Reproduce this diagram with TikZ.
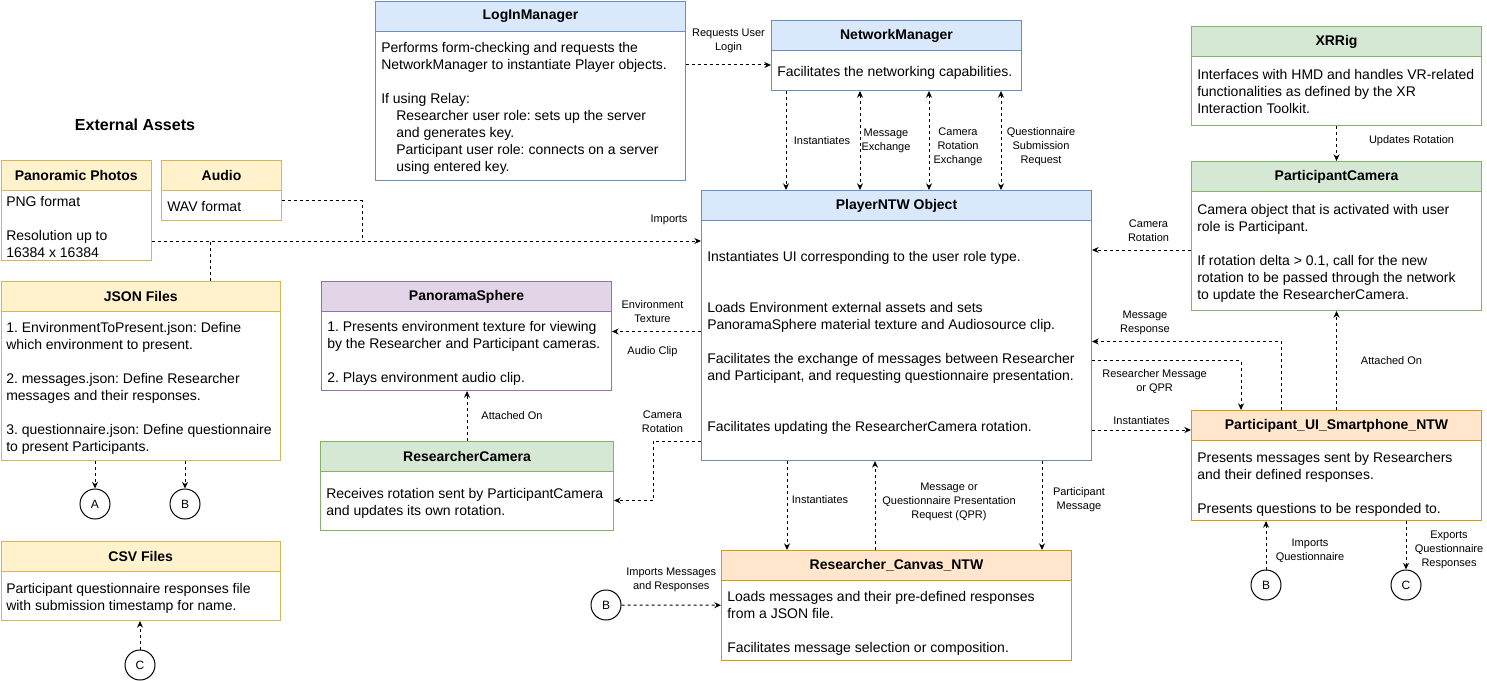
\documentclass[tikz,border=0pt]{standalone}
\usepackage{fontspec}
\setmainfont{Liberation Sans}
\frenchspacing
\usetikzlibrary{arrows.meta, positioning, calc}
\definecolor{hdBlue}{HTML}{DAE8FC}
\definecolor{lnBlue}{HTML}{6C8EBF}
\definecolor{hdYellow}{HTML}{FFF2CC}
\definecolor{lnYellow}{HTML}{D6B656}
\definecolor{hdGreen}{HTML}{D5E8D4}
\definecolor{lnGreen}{HTML}{82B366}
\definecolor{hdPurple}{HTML}{E1D5E7}
\definecolor{lnPurple}{HTML}{9673A6}
\definecolor{hdOrange}{HTML}{FFE6CC}
\definecolor{lnOrange}{HTML}{D79B00}

\begin{document}
\begin{tikzpicture}[
    x=0.75pt, y=-0.75pt,
    >={Stealth[length=5pt, width=4.5pt]},
    % Styles
    frame/.style={
        draw=#1, line width=0.75pt, fill=white, anchor=north west, inner sep=0pt
    },
    head/.style={
        draw=#1, line width=0.75pt, anchor=north, minimum height=22.5pt, inner sep=0pt,
        font=\fontsize{10.5}{12.75}\selectfont\bfseries
    },
    body/.style={
        anchor=north west, inner sep=0pt, align=left, font=\fontsize{10.5}{12.75}\selectfont
    },
    lbl/.style={
        inner sep=0pt, align=center, font=\fontsize{8.25}{10.5}\selectfont
    },
    ref/.style={
        circle, draw, line width=0.75pt, minimum size=22.5pt, inner sep=0pt, fill=white,
        font=\fontsize{9}{11}\selectfont
    },
    dline/.style={dash pattern=on 2.25pt off 2.25pt, line width=0.75pt},
    flow/.style={dline, ->},
    biflow/.style={dline, <->}
]
    \useasboundingbox (0,0) rectangle (1487,681);

    % --- 1. Managers ---
    \node[frame=lnBlue, minimum width=232.5pt, minimum height=134.25pt] (login) at (375,1) {};
    \node[head=lnBlue, fill=hdBlue, minimum width=232.5pt] (loginHead) at (login.north) {LogInManager};
    \node[body] (loginText) at (381,42) {Performs form-checking and requests the\\
        NetworkManager to instantiate Player objects.\\[12.75pt]
        If using Relay:\\
        \hspace*{11.25pt}Researcher user role: sets up the server\\
        \hspace*{11.25pt}and generates key.\\
        \hspace*{11.25pt}Participant user role: connects on a server\\
        \hspace*{11.25pt}using entered key.};

    \node[frame=lnBlue, minimum width=187.5pt, minimum height=52.5pt] (net) at (771,20) {};
    \node[head=lnBlue, fill=hdBlue, minimum width=187.5pt] (netHead) at (net.north) {NetworkManager};
    \node[body] (netText) at (777,66) {Facilitates the networking capabilities.};

    \node[frame=lnBlue, minimum width=292.5pt, minimum height=202.5pt] (player) at (701,190) {};
    \node[head=lnBlue, fill=hdBlue, minimum width=292.5pt] (playerHead) at (player.north) {PlayerNTW Object};
    \node[body] (playerText) at (707,251) {Instantiates UI corresponding to the user role type.\\[25.5pt]
        Loads Environment external assets and sets\\
        PanoramaSphere material texture and Audiosource clip.\\[12.75pt]
        Facilitates the exchange of messages between Researcher\\
        and Participant, and requesting questionnaire presentation.\\[25.5pt]
        Facilitates updating the ResearcherCamera rotation.};

    % --- 2. XR side ---
    \node[frame=lnGreen, minimum width=217.5pt, minimum height=74.25pt] (xr) at (1191,26) {};
    \node[head=lnGreen, fill=hdGreen, minimum width=217.5pt] (xrHead) at (xr.north) {XRRig};
    \node[body] (xrText) at (1197,69) {Interfaces with HMD and handles VR-related\\
        functionalities as defined by the XR\\
        Interaction Toolkit.};

    \node[frame=lnGreen, minimum width=217.5pt, minimum height=111.75pt] (pcam) at (1191,161) {};
    \node[head=lnGreen, fill=hdGreen, minimum width=217.5pt] (pcamHead) at (pcam.north) {ParticipantCamera};
    \node[body] (pcamText) at (1197,204) {Camera object that is activated with user\\
        role is Participant.\\[12.75pt]
        If rotation delta > 0.1, call for the new\\
        rotation to be passed through the network\\
        to update the ResearcherCamera.};

    \node[frame=lnOrange, minimum width=217.5pt, minimum height=82.5pt] (pui) at (1191,410) {};
    \node[head=lnOrange, fill=hdOrange, minimum width=217.5pt] (puiHead) at (pui.north) {Participant\_UI\_Smartphone\_NTW};
    \node[body] (puiText) at (1197,452) {Presents messages sent by Researchers\\
        and their defined responses.\\[12.75pt]
        Presents questions to be responded to.};

    % --- 3. External assets ---
    \node[font=\fontsize{12}{14}\selectfont\bfseries] (assetsTitle) at (135,125) {External Assets};

    \node[frame=lnYellow, minimum width=112.875pt, minimum height=75pt] (photo) at (0.5,160) {};
    \node[head=lnYellow, fill=hdYellow, minimum width=112.875pt] (photoHead) at (photo.north) {Panoramic Photos};
    \node[body] (photoText) at (6,196) {PNG format\\[12.75pt]
        Resolution up to\\
        16384 x 16384};

    \node[frame=lnYellow, minimum width=90pt, minimum height=45pt] (audio) at (161,160) {};
    \node[head=lnYellow, fill=hdYellow, minimum width=90pt] (audioHead) at (audio.north) {Audio};
    \node[body] (audioText) at (167,201) {WAV format};

    \node[frame=lnYellow, minimum width=209.625pt, minimum height=134.25pt] (json) at (0.5,281) {};
    \node[head=lnYellow, fill=hdYellow, minimum width=209.625pt] (jsonHead) at (json.north) {JSON Files};
    \node[body] (jsonText) at (6,322) {1. EnvironmentToPresent.json: Define\\
        which environment to present.\\[12.75pt]
        2. messages.json: Define Researcher\\
        messages and their responses.\\[12.75pt]
        3. questionnaire.json: Define questionnaire\\
        to present Participants.};

    \node[frame=lnYellow, minimum width=209.625pt, minimum height=59.25pt] (csv) at (0.5,541) {};
    \node[head=lnYellow, fill=hdYellow, minimum width=209.625pt] (csvHead) at (csv.north) {CSV Files};
    \node[body] (csvText) at (6,583) {Participant questionnaire responses file\\
        with submission timestamp for name.};

    % --- 4. Scene objects ---
    \node[frame=lnPurple, minimum width=217.5pt, minimum height=81.75pt] (sphere) at (321,281) {};
    \node[head=lnPurple, fill=hdPurple, minimum width=217.5pt] (sphereHead) at (sphere.north) {PanoramaSphere};
    \node[body] (sphereText) at (327,321) {1. Presents environment texture for viewing\\
        by the Researcher and Participant cameras.\\[12.75pt]
        2. Plays environment audio clip.};

    \node[frame=lnGreen, minimum width=219.75pt, minimum height=66.75pt] (rcam) at (320,441) {};
    \node[head=lnGreen, fill=hdGreen, minimum width=219.75pt] (rcamHead) at (rcam.north) {ResearcherCamera};
    \node[body] (rcamText) at (326,488) {Receives rotation sent by ParticipantCamera\\
        and updates its own rotation.};

    \node[frame=lnOrange, minimum width=262.5pt, minimum height=82.5pt] (canvas) at (721,550) {};
    \node[head=lnOrange, fill=hdOrange, minimum width=262.5pt] (canvasHead) at (canvas.north) {Researcher\_Canvas\_NTW};
    \node[body] (canvasText) at (727,591) {Loads messages and their pre-defined responses\\
        from a JSON file.\\[12.75pt]
        Facilitates message selection or composition.};

    % --- 5. Off-page references ---
    \node[ref] (circA) at (95,504) {A};
    \node[ref] (circB1) at (185,504) {B};
    \node[ref] (circC1) at (140,665) {C};
    \node[ref] (circB2) at (606,605) {B};
    \node[ref] (circB3) at (1266,585) {B};
    \node[ref] (circC2) at (1406,585) {C};

    % --- 6. Connections ---
    \coordinate (netIn) at ($(net.north west)+(0,45)$);
    \draw[flow] (login.east |- netIn) -- (netIn) node[lbl, midway, yshift=18pt] {Requests User\\Login};

    \coordinate (nwInst) at ($(net.south west)+(15,0)$);
    \coordinate (nwMsg) at ($(net.south west)+(89,0)$);
    \coordinate (nwCam) at ($(net.south west)+(158,0)$);
    \coordinate (nwQst) at ($(net.south west)+(230,0)$);
    \draw[flow] (nwInst) -- (nwInst |- player.north) node[lbl, midway, xshift=27pt] {Instantiates};
    \draw[biflow] (nwMsg) -- (nwMsg |- player.north) node[lbl, midway, xshift=19.5pt] {Message\\Exchange};
    \draw[biflow] (nwCam) -- (nwCam |- player.north) node[lbl, midway, xshift=21.75pt, yshift=-4.5pt] {Camera\\Rotation\\Exchange};
    \draw[biflow] (nwQst) -- (nwQst |- player.north) node[lbl, midway, xshift=30pt, yshift=-4.5pt] {Questionnaire\\Submission\\Request};

    % imports of the external assets
    \coordinate (imp) at ($(photo.south east)+(0,-20)$);
    \coordinate (audOut) at ($(audio.east)+(0,10)$);
    \coordinate (jsonUp) at ($(json.north)+(70,0)$);
    \draw[flow] (imp) -- (player.west |- imp) node[lbl, pos=1, xshift=-24pt, yshift=15.75pt] {Imports};
    \draw[dline] (audOut) -| ($(imp)+(210,0)$);
    \draw[dline] (jsonUp) -- (jsonUp |- imp);

    \draw[flow] (xr) -- (pcam) node[lbl, midway, xshift=56.25pt, yshift=2.25pt] {Updates Rotation};

    \coordinate (pcOut) at ($(pcam.west)+(0,14)$);
    \draw[flow] (pcOut) -- (player.east |- pcOut) node[lbl, midway, xshift=5.25pt, yshift=14.6pt] {Camera\\Rotation};

    \coordinate (plEnv) at ($(player.west)+(0,6)$);
    \draw[flow] (plEnv) -- (sphere.east |- plEnv)
        node[lbl, midway, xshift=-3pt, yshift=15pt] {Environment\\Texture}
        node[lbl, midway, xshift=-3pt, yshift=-15pt] {Audio Clip};

    \draw[flow] (rcam.north) -- (rcam.north |- sphere.south) node[lbl, midway, xshift=33.75pt] {Attached On};

    \coordinate (plCam) at ($(player.south west)+(0,-20)$);
    \coordinate (rcIn) at ($(rcam.east)+(0,14.5)$);
    \draw[flow] (plCam) -| ($(rcIn)+(39,0)$) node[lbl, pos=0.25, xshift=-10.9pt, yshift=14.25pt] {Camera\\Rotation} |- (rcIn);

    \coordinate (plInst) at ($(player.south west)+(86,0)$);
    \coordinate (cvReq) at ($(canvas.north west)+(154,0)$);
    \coordinate (plPart) at ($(player.south west)+(341,0)$);
    \draw[flow] (plInst) -- (plInst |- canvas.north) node[lbl, midway, xshift=24.75pt, yshift=4.5pt] {Instantiates};
    \draw[flow] (cvReq) -- (cvReq |- player.south) node[lbl, midway, xshift=55.5pt, yshift=3pt] {Message or\\Questionnaire Presentation\\Request (QPR)};
    \draw[flow] (plPart) -- (plPart |- canvas.north) node[lbl, midway, xshift=27.75pt, yshift=4.5pt] {Participant\\Message};

    \draw[flow] (circB2) -- (canvas) node[lbl, midway, yshift=18.75pt] {Imports Messages\\and Responses};

    \coordinate (puMsg) at ($(pui.north west)+(90,0)$);
    \coordinate (plMsg) at ($(player.east)+(0,16)$);
    \draw[flow] (puMsg) |- (plMsg) node[lbl, pos=0.86, yshift=14.25pt] {Message\\Response};

    \coordinate (plRes) at ($(player.east)+(0,35)$);
    \coordinate (puRes) at ($(pui.north west)+(50,0)$);
    \draw[flow] (plRes) -| (puRes) node[lbl, pos=0.21, yshift=-15.75pt] {Researcher Message\\or QPR};

    \coordinate (puInst) at ($(pui.north west)+(0,20)$);
    \draw[flow] (player.east |- puInst) -- (puInst) node[lbl, midway, yshift=6.75pt] {Instantiates};

    \draw[flow] (pui) -- (pcam) node[lbl, midway, xshift=41.25pt] {Attached On};

    \draw[flow] (circB3) -- (circB3 |- pui.south) node[lbl, midway, xshift=33pt, yshift=-3.75pt] {Imports\\Questionnaire};
    \draw[flow] (circC2 |- pui.south) -- (circC2) node[lbl, midway, xshift=32.25pt, yshift=-3.75pt] {Exports\\Questionnaire\\Responses};

    \draw[flow] (circA |- json.south) -- (circA);
    \draw[flow] (circB1 |- json.south) -- (circB1);
    \draw[flow] (circC1) -- (circC1 |- csv.south);

\end{tikzpicture}
\end{document}
